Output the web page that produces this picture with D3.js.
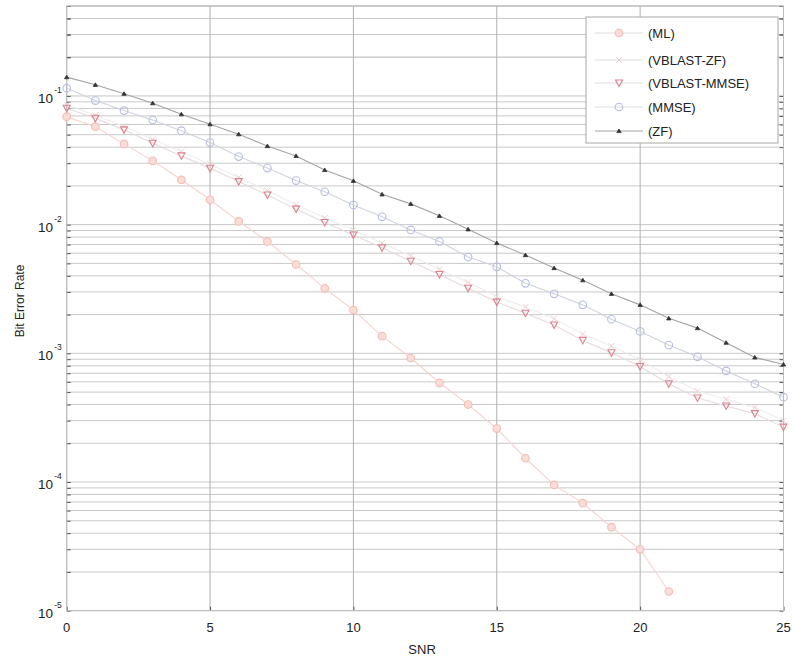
<!DOCTYPE html>
<html>
<head>
<meta charset="utf-8">
<script src="https://cdn.jsdelivr.net/npm/d3@7"></script>
<style>
  body { margin: 0; background: #fff; }
  text { font-family: "Liberation Sans", Arial, sans-serif; fill: #222; }
</style>
</head>
<body>
<div id="chart"></div>
<script>
// data
let snr = [0, 1, 2, 3, 4, 5, 6, 7, 8, 9, 10, 11, 12, 13, 14, 15, 16, 17, 18, 19, 20, 21, 22, 23, 24, 25];

let berML = [0.069, 0.0577, 0.0424, 0.0313, 0.0223, 0.0156, 0.0106, 0.0074, 0.0049, 0.0032, 0.00217, 0.00136,
  0.00092, 0.00059, 0.0004, 0.00026, 0.000153, 0.000095, 0.0000685, 0.0000446, 0.00003, 0.0000141];

let berVblastZF = [0.085, 0.071, 0.058, 0.046, 0.037, 0.0295, 0.0233, 0.0184, 0.0143, 0.0113, 0.0091, 0.0072,
  0.0057, 0.0045, 0.00356, 0.00276, 0.00229, 0.00186, 0.00141, 0.00114, 0.00089, 0.00066, 0.00051, 0.00044, 0.00038, 0.0003];

let berVblastMMSE = [0.0802, 0.0671, 0.0545, 0.0429, 0.0342, 0.0274, 0.0216, 0.017, 0.0132, 0.0104, 0.0083, 0.0066,
  0.0052, 0.0041, 0.0032, 0.0025, 0.00205, 0.00166, 0.00126, 0.00101, 0.00079, 0.00058, 0.00045, 0.00039, 0.00034, 0.000267];

let berMMSE = [0.115, 0.092, 0.077, 0.065, 0.0537, 0.0434, 0.0338, 0.0275, 0.022, 0.018, 0.0142, 0.0115,
  0.0091, 0.0074, 0.0056, 0.0047, 0.0035, 0.0029, 0.00238, 0.00184, 0.00148, 0.00116, 0.00094, 0.00073, 0.00058, 0.000456];

let berZF = [0.14, 0.122, 0.104, 0.0878, 0.0721, 0.0603, 0.0504, 0.0408, 0.0342, 0.0266, 0.0219, 0.0172,
  0.0145, 0.0117, 0.0092, 0.0072, 0.0058, 0.0046, 0.0037, 0.0029, 0.00238, 0.00187, 0.00157, 0.00121, 0.00093, 0.00082];

let seriesNames = ["(ML)", "(VBLAST-ZF)", "(VBLAST-MMSE)", "(MMSE)", "(ZF)"];

let xTicks = [0, 5, 10, 15, 20, 25];
let yTickExps = [-5, -4, -3, -2, -1];

// sizes
let svgWidth = 792;
let svgHeight = 656;

let margin = {
  top: 6,
  right: 8.5,
  bottom: 45.3,
  left: 66.7
};

let width = svgWidth - margin.left - margin.right;
let height = svgHeight - margin.top - margin.bottom;

let svg = d3.select("#chart")
  .append("svg")
  .attr("width", svgWidth)
  .attr("height", svgHeight);

let chartGroup = svg.append("g")
  .attr("transform", `translate(${margin.left}, ${margin.top})`);

let xScale = d3.scaleLinear().domain([0, 25]).range([0, width]);
let yScale = d3.scaleLog().domain([1e-5, 0.5]).range([height, 0]);

// minor + major horizontal grid (log decades)
let yGridVals = [];
yTickExps.concat([0]).forEach(function (e) {
  for (let m = 1; m <= 9; m++) {
    let v = m * Math.pow(10, e - 1);
    if (v >= 1e-5 && v <= 0.5) yGridVals.push(v);
  }
});
yGridVals.push(0.2, 0.3, 0.4, 0.5);

chartGroup.append("g")
  .selectAll("line")
  .data(yGridVals)
  .enter()
  .append("line")
  .attr("x1", 0)
  .attr("x2", width)
  .attr("y1", d => yScale(d))
  .attr("y2", d => yScale(d))
  .attr("stroke", "#c9c9c9")
  .attr("stroke-width", 1);

chartGroup.append("g")
  .selectAll("line")
  .data(xTicks)
  .enter()
  .append("line")
  .attr("x1", d => xScale(d))
  .attr("x2", d => xScale(d))
  .attr("y1", 0)
  .attr("y2", height)
  .attr("stroke", "#b0b0b0")
  .attr("stroke-width", 1);

// axes: ticks inside, no domain path
let bottomAxis = d3.axisBottom(xScale).tickValues(xTicks).tickSize(-4).tickFormat("");
let leftAxis = d3.axisLeft(yScale).tickValues(yGridVals).tickSize(-4).tickFormat("");
let rightAxis = d3.axisRight(yScale).tickValues(yGridVals).tickSize(-4).tickFormat("");

chartGroup.append("g").attr("transform", `translate(0, ${height})`).call(bottomAxis);
chartGroup.append("g").call(leftAxis);
chartGroup.append("g").attr("transform", `translate(${width}, 0)`).call(rightAxis);
chartGroup.selectAll(".domain").remove();
chartGroup.selectAll(".tick line").attr("stroke", "#555");

// plot frame
chartGroup.append("rect")
  .attr("width", width)
  .attr("height", height)
  .attr("fill", "none")
  .attr("stroke", "#bdbdbd");

// tick labels
chartGroup.append("g")
  .selectAll("text")
  .data(xTicks)
  .enter()
  .append("text")
  .attr("x", d => xScale(d))
  .attr("y", height + 21)
  .attr("text-anchor", "middle")
  .style("font-size", "13px")
  .text(d => d);

let yLabels = chartGroup.append("g")
  .selectAll("text")
  .data(yTickExps)
  .enter()
  .append("text")
  .attr("x", -5)
  .attr("y", d => yScale(Math.pow(10, d)) + 7)
  .attr("text-anchor", "end")
  .style("font-size", "13.5px");
yLabels.append("tspan").text("10");
yLabels.append("tspan")
  .attr("dy", -10)
  .attr("dx", 1)
  .style("font-size", "8.5px")
  .text(d => d);

// series
let series = [
  { x: snr.slice(0, berML.length), y: berML, line: "#f3d3ce", marker: "circle", color: "#f4bcb2", fill: "#f9ddd6" },
  { x: snr, y: berVblastZF, line: "#ededed", marker: "x", color: "#efd0d0", fill: "none" },
  { x: snr, y: berVblastMMSE, line: "#e6dadc", marker: "down", color: "#dc8290", fill: "none" },
  { x: snr, y: berMMSE, line: "#d0d3df", marker: "circle", color: "#b6bde0", fill: "none" },
  { x: snr, y: berZF, line: "#a4a4a4", marker: "up", color: "#333", fill: "#333" }
];

let lineGen = d3.line()
  .x(d => xScale(d[0]))
  .y(d => yScale(d[1]));

function drawMarker(g, type, color, fill) {
  if (type === "circle") {
    g.append("circle").attr("r", 3.8).attr("fill", fill).attr("stroke", color).attr("stroke-width", 1.1);
  } else if (type === "x") {
    g.append("path").attr("d", "M-3,-3L3,3M-3,3L3,-3").attr("stroke", color).attr("stroke-width", 1);
  } else if (type === "down") {
    g.append("path").attr("d", "M-3.5,-3L3.5,-3L0,3.5Z").attr("fill", "none").attr("stroke", color).attr("stroke-width", 1.1);
  } else {
    g.append("path").attr("d", "M-2.2,1.6L2.2,1.6L0,-2Z").attr("fill", fill).attr("stroke", color).attr("stroke-width", 0.8);
  }
}

series.forEach(function (s) {
  let pts = s.x.map((v, i) => [v, s.y[i]]);
  chartGroup.append("path")
    .datum(pts)
    .attr("d", lineGen)
    .attr("fill", "none")
    .attr("stroke", s.line)
    .attr("stroke-width", 1.1);
  chartGroup.append("g")
    .selectAll("g")
    .data(pts)
    .enter()
    .append("g")
    .attr("transform", d => `translate(${xScale(d[0])}, ${yScale(d[1])})`)
    .each(function () { drawMarker(d3.select(this), s.marker, s.color, s.fill); });
});

// axis titles
svg.append("text")
  .attr("x", margin.left + width / 2 - 3)
  .attr("y", 654)
  .attr("text-anchor", "middle")
  .style("font-size", "13px")
  .text("SNR");

svg.append("text")
  .attr("transform", `translate(24, 301) rotate(-90)`)
  .attr("text-anchor", "middle")
  .style("font-size", "12px")
  .text("Bit Error Rate");

// legend
let legend = svg.append("g").attr("transform", "translate(586, 17)");
legend.append("rect")
  .attr("width", 192)
  .attr("height", 126)
  .attr("fill", "#fff")
  .attr("stroke", "#a8a8a8");

let legendRows = [16, 43, 66, 90, 114];
seriesNames.forEach(function (name, i) {
  let row = legend.append("g").attr("transform", `translate(0, ${legendRows[i]})`);
  row.append("line")
    .attr("x1", 9).attr("x2", 57)
    .attr("stroke", i === 4 ? "#a4a4a4" : "#dedede")
    .attr("stroke-width", 1.1);
  let m = row.append("g").attr("transform", "translate(33, 0)");
  drawMarker(m, series[i].marker, series[i].color, series[i].fill);
  row.append("text")
    .attr("x", 62)
    .attr("y", 5)
    .style("font-size", "13px")
    .text(name);
});
</script>
</body>
</html>
